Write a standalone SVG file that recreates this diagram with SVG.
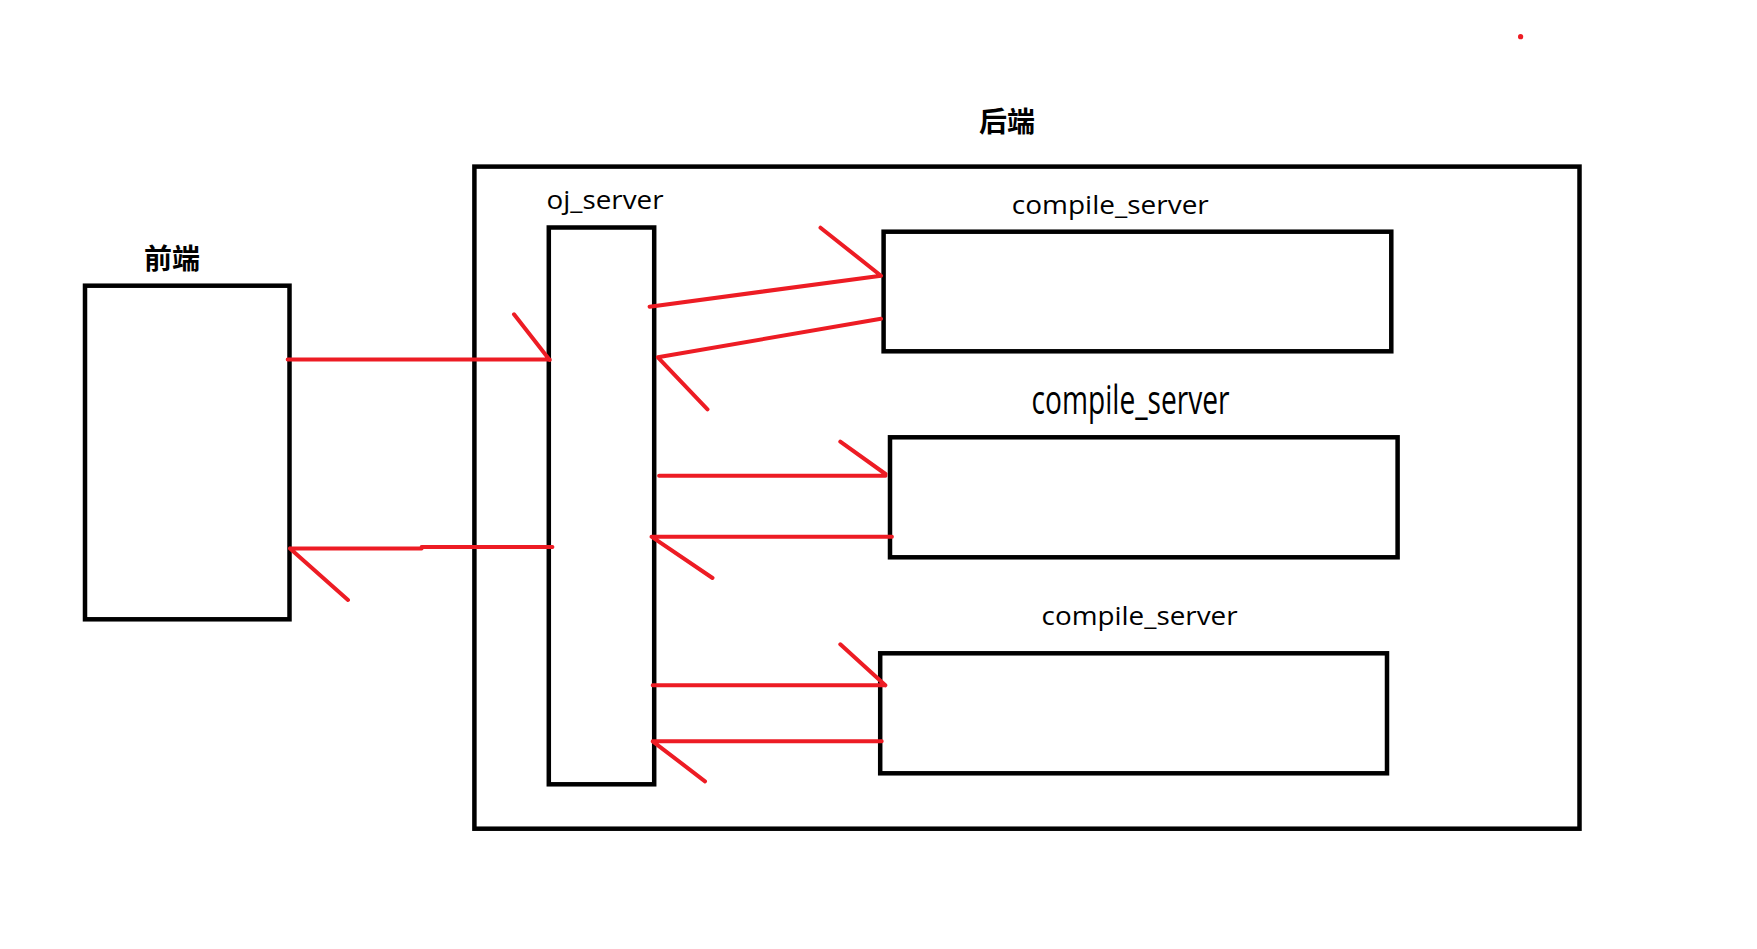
<svg xmlns="http://www.w3.org/2000/svg" width="1757" height="949" viewBox="0 0 1757 949">
<style>
.box{fill:none;stroke:#000;stroke-width:4.5}
.red{fill:none;stroke:#ED1C24;stroke-width:4;stroke-linecap:round;stroke-linejoin:round}
.cjk{font-family:"Noto Sans CJK SC","Noto Sans",sans-serif;font-weight:bold;font-size:28px;fill:#000}
.lbl{font-family:"Open Sans","Noto Sans",sans-serif;font-size:26px;fill:#000}
.big{font-size:40px}
</style>
<rect width="1757" height="949" fill="#fff"/>
<circle cx="1520.6" cy="36.7" r="2.6" fill="#ED1C24"/>
<g id="backend">
<rect class="box" x="474.4" y="166.6" width="1105.1" height="662.1"/>
<text class="cjk" x="979" y="132">后端</text>
</g>
<g id="frontend">
<rect class="box" x="85" y="285.7" width="204.5" height="333.6"/>
<text class="cjk" x="144" y="269">前端</text>
</g>
<g id="oj_server">
<rect class="box" x="548.8" y="227.5" width="105.4" height="556.8"/>
<text class="lbl" x="546.6" y="209" textLength="117" lengthAdjust="spacingAndGlyphs">oj_server</text>
</g>
<g id="compile_server_1">
<rect class="box" x="883.6" y="231.7" width="507.7" height="119.6"/>
<text class="lbl" x="1011.8" y="213.5" textLength="197" lengthAdjust="spacingAndGlyphs">compile_server</text>
</g>
<g id="compile_server_2">
<rect class="box" x="890" y="437.3" width="507.6" height="120"/>
<text class="lbl big" x="1031.6" y="414" textLength="198" lengthAdjust="spacingAndGlyphs">compile_server</text>
</g>
<g id="compile_server_3">
<rect class="box" x="880.2" y="653.3" width="506.8" height="120"/>
<text class="lbl" x="1041.6" y="624.5" textLength="196" lengthAdjust="spacingAndGlyphs">compile_server</text>
</g>
<g id="connectors">
<path class="red" d="M287.7,359.6 L549.7,359.6 M514,314.3 L549.7,360"/>
<path class="red" d="M552.4,547.1 L421.6,547.1 M421.6,548.6 L290,548.6 M290,548.4 L348,600"/>
<path class="red" d="M649.6,306.7 L881,275.7 M820.5,227.7 L881,275.7"/>
<path class="red" d="M881,318.7 L657.9,357.3 L707.5,409.3"/>
<path class="red" d="M659.1,475.7 L885.5,475.7 M840.3,441.7 L885.5,474"/>
<path class="red" d="M891.9,536.7 L651.5,536.7 L712.5,578"/>
<path class="red" d="M652.7,685.3 L885.3,685.3 M840.3,644.3 L885.3,685.3"/>
<path class="red" d="M881.7,741.3 L652.7,741.3 L705,781.3"/>
</g>
</svg>
